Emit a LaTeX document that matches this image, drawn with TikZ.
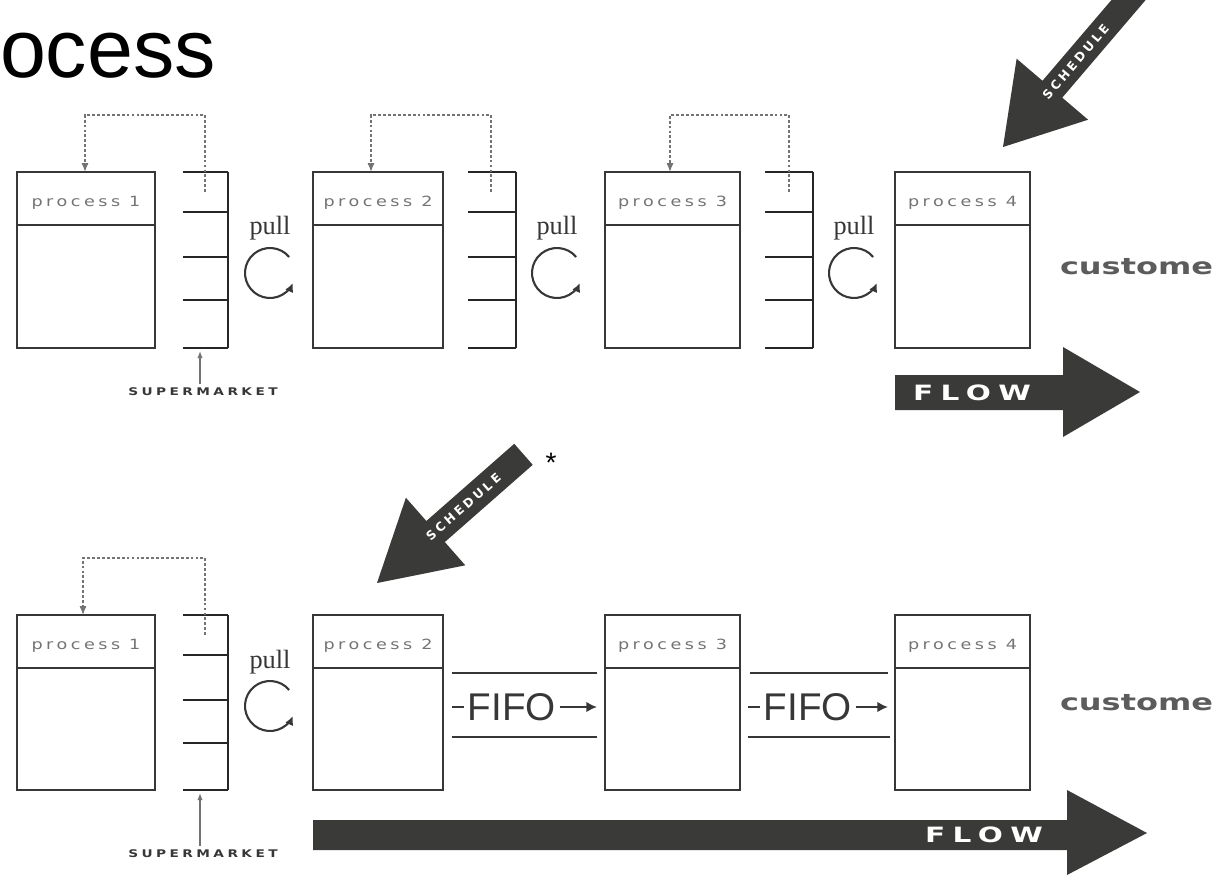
\documentclass[tikz,border=0pt]{standalone}
\usepackage{fontspec}
\setmainfont{Liberation Sans}
\newfontfamily\pullfont{Liberation Serif}
\newfontfamily\plainwide{DejaVu Sans}
\newfontfamily\tagfont{DejaVu Sans}[LetterSpace=20]
\newfontfamily\capsfont{DejaVu Sans}[LetterSpace=25]
\usetikzlibrary{arrows.meta, positioning, calc}

\definecolor{InkGray}{RGB}{55, 55, 55}
\definecolor{SoftGray}{RGB}{115, 115, 115}
\definecolor{FatGray}{RGB}{58, 58, 56}

\begin{document}
\begin{tikzpicture}[
    x=0.02cm, y=-0.02cm,
    every node/.style={inner sep=0pt, outer sep=0pt},
    proc/.style={draw=InkGray, line width=1.6pt, minimum width=2.7cm, minimum height=3.52cm},
    procrule/.style={draw=InkGray, line width=1.4pt},
    proctag/.style={font=\tagfont\fontsize{8}{9}\selectfont, text=SoftGray, xscale=1.25},
    rack/.style={draw=black!85, line width=1.3pt},
    kanban/.style={draw=SoftGray, line width=0.8pt, dash pattern=on 1.6pt off 1.2pt},
    kanbantip/.style={-{Latex[length=5pt, width=4pt]}},
    pulltag/.style={font=\pullfont\fontsize{15}{16}\selectfont, text=InkGray},
    pullarc/.style={draw=InkGray, line width=1.2pt, -{Latex[length=5pt, width=5pt]}},
    marktag/.style={font=\capsfont\bfseries\fontsize{6}{7}\selectfont, text=InkGray, xscale=1.3},
    supply/.style={draw=SoftGray, line width=0.6pt, -{Latex[length=4pt, width=3pt]}},
    custtag/.style={font=\plainwide\bfseries\fontsize{13}{14}\selectfont, text=SoftGray!80!black, xscale=1.4, anchor=west},
    fatarrow/.style={fill=FatGray},
    flowtag/.style={font=\capsfont\bfseries\fontsize{12}{13}\selectfont, text=white, xscale=1.4},
    schedtag/.style={font=\capsfont\bfseries\fontsize{7}{8}\selectfont, text=white},
    fifotag/.style={font=\fontsize{22}{24}\selectfont, text=InkGray},
    fifoline/.style={draw=InkGray, line width=1.3pt}
]
\useasboundingbox (0,0) rectangle (1214,876);
\clip (0,0) rectangle (1214,876);

\node[font=\fontsize{47}{50}\selectfont, anchor=base west] (title) at (0,77) {ocess};

% upper line: supermarket pull everywhere
\node[proc, minimum width=2.76cm] (p1) at (86,260) {};
\node[proc, minimum width=2.6cm] (p2) at (378,260) {};
\node[proc] (p3) at (672.5,260) {};
\node[proc] (p4) at (962.5,260) {};
\draw[procrule] ($(p1.north west)+(0,53)$) -- ($(p1.north east)+(0,53)$);
\draw[procrule] ($(p2.north west)+(0,53)$) -- ($(p2.north east)+(0,53)$);
\draw[procrule] ($(p3.north west)+(0,53)$) -- ($(p3.north east)+(0,53)$);
\draw[procrule] ($(p4.north west)+(0,53)$) -- ($(p4.north east)+(0,53)$);
\node[proctag] (p1tag) at ($(p1.north)+(0,31)$) {process 1};
\node[proctag] (p2tag) at ($(p2.north)+(0,31)$) {process 2};
\node[proctag] (p3tag) at ($(p3.north)+(0,31)$) {process 3};
\node[proctag] (p4tag) at ($(p4.north)+(0,31)$) {process 4};

\draw[rack] (228,172) -- (228,348) (183,172) -- (228,172) (183,212) -- (228,212)
    (183,257) -- (228,257) (183,300) -- (228,300) (183,348) -- (228,348);
\draw[rack] (516,172) -- (516,348) (468,172) -- (516,172) (468,212) -- (516,212)
    (468,257) -- (516,257) (468,300) -- (516,300) (468,348) -- (516,348);
\draw[rack] (813,172) -- (813,348) (765,172) -- (813,172) (765,212) -- (813,212)
    (765,257) -- (813,257) (765,300) -- (813,300) (765,348) -- (813,348);

\coordinate (k1) at (205,192);
\coordinate (k2) at (491,192);
\coordinate (k3) at (789,192);
\coordinate (t1) at (85,115);
\coordinate (t2) at (371,115);
\coordinate (t3) at (670,115);
\draw[kanban, kanbantip] (k1) |- (t1) -- (t1 |- p1.north);
\draw[kanban, kanbantip] (k2) |- (t2) -- (t2 |- p2.north);
\draw[kanban, kanbantip] (k3) |- (t3) -- (t3 |- p3.north);

\node[pulltag] (pull1) at (270,228) {pull};
\node[pulltag] (pull2) at (557,228) {pull};
\node[pulltag] (pull3) at (854,228) {pull};
\coordinate (c1) at (270,273);
\coordinate (c2) at (557,273);
\coordinate (c3) at (854,273);
\draw[pullarc] ($(c1)+(-40:25)$) arc[start angle=-40, end angle=-336, radius=25];
\draw[pullarc] ($(c2)+(-40:25)$) arc[start angle=-40, end angle=-336, radius=25];
\draw[pullarc] ($(c3)+(-40:25)$) arc[start angle=-40, end angle=-336, radius=25];

\node[marktag, anchor=north] (mark1) at (203,388) {SUPERMARKET};
\coordinate (m1) at (200,384);
\coordinate (s1) at (200,351);
\draw[supply] (m1) -- (s1);

\node[custtag] (cust1) at (1060,267) {customer};

\fill[fatarrow] (895,375) -- (1063,375) -- (1063,347) -- (1140,392) -- (1063,437)
    -- (1063,410) -- (895,410) -- cycle;
\node[flowtag] (flow1) at (972,393) {FLOW};

\begin{scope}[shift={(1003,147)}, rotate=229.5]
  \fill[fatarrow] (0,0) -- (-76,47) -- (-76,13) -- (-240,13) -- (-240,-13) -- (-76,-13)
      -- (-76,-47) -- cycle;
  \node[schedtag, rotate=49.5] (sched1) at (-112,0) {SCHEDULE};
\end{scope}

% lower line: one schedule point, FIFO behind it
\begin{scope}[shift={(377,583)}, rotate=221.3]
  \fill[fatarrow] (0,0) -- (-78,45) -- (-78,14) -- (-195,14) -- (-195,-14) -- (-78,-14)
      -- (-78,-45) -- cycle;
  \node[schedtag, rotate=41.3] (sched2) at (-115,0) {SCHEDULE};
\end{scope}
\node[font=\fontsize{16}{16}\selectfont] (star) at (551,463) {*};

\node[proc, minimum width=2.76cm, minimum height=3.5cm] (q1) at (86,702.5) {};
\node[proc, minimum width=2.6cm, minimum height=3.5cm] (q2) at (378,702.5) {};
\node[proc, minimum height=3.5cm] (q3) at (672.5,702.5) {};
\node[proc, minimum height=3.5cm] (q4) at (962.5,702.5) {};
\draw[procrule] ($(q1.north west)+(0,53)$) -- ($(q1.north east)+(0,53)$);
\draw[procrule] ($(q2.north west)+(0,53)$) -- ($(q2.north east)+(0,53)$);
\draw[procrule] ($(q3.north west)+(0,53)$) -- ($(q3.north east)+(0,53)$);
\draw[procrule] ($(q4.north west)+(0,53)$) -- ($(q4.north east)+(0,53)$);
\node[proctag] (q1tag) at ($(q1.north)+(0,31)$) {process 1};
\node[proctag] (q2tag) at ($(q2.north)+(0,31)$) {process 2};
\node[proctag] (q3tag) at ($(q3.north)+(0,31)$) {process 3};
\node[proctag] (q4tag) at ($(q4.north)+(0,31)$) {process 4};

\draw[rack] (228,615) -- (228,790) (183,615) -- (228,615) (183,655) -- (228,655)
    (183,700) -- (228,700) (183,743) -- (228,743) (183,790) -- (228,790);
\coordinate (k4) at (205,635);
\coordinate (t4) at (83,558);
\draw[kanban, kanbantip] (k4) |- (t4) -- (t4 |- q1.north);

\node[pulltag] (pull4) at (270,662) {pull};
\coordinate (c4) at (270,706);
\draw[pullarc] ($(c4)+(-40:25)$) arc[start angle=-40, end angle=-336, radius=25];

\node[marktag, anchor=north] (mark2) at (203,850) {SUPERMARKET};
\coordinate (m2) at (200,846);
\coordinate (s2) at (200,793);
\draw[supply] (m2) -- (s2);

\draw[fifoline] (452,673) -- (597,673) (452,737) -- (597,737);
\draw[fifoline] (750,673) -- (888,673) (748,737) -- (890,737);
\node[fifotag] (fifo1) at (512,707) {FIFO};
\node[fifotag] (fifo2) at (808,707) {FIFO};
\coordinate (f1a) at (452,707);
\coordinate (f1b) at (597,707);
\coordinate (f2a) at (748,707);
\coordinate (f2b) at (888,707);
\draw[fifoline] (f1a) -- ([xshift=-2pt]fifo1.west);
\draw[fifoline, -{Latex[length=6pt, width=6pt]}] ([xshift=2pt]fifo1.east) -- (f1b);
\draw[fifoline] (f2a) -- ([xshift=-2pt]fifo2.west);
\draw[fifoline, -{Latex[length=6pt, width=6pt]}] ([xshift=2pt]fifo2.east) -- (f2b);

\node[custtag] (cust2) at (1060,703) {customer};

\fill[fatarrow] (313,820) -- (1067,820) -- (1067,790) -- (1147,833) -- (1067,875)
    -- (1067,850) -- (313,850) -- cycle;
\node[flowtag] (flow2) at (984,835) {FLOW};
\end{tikzpicture}
\end{document}
